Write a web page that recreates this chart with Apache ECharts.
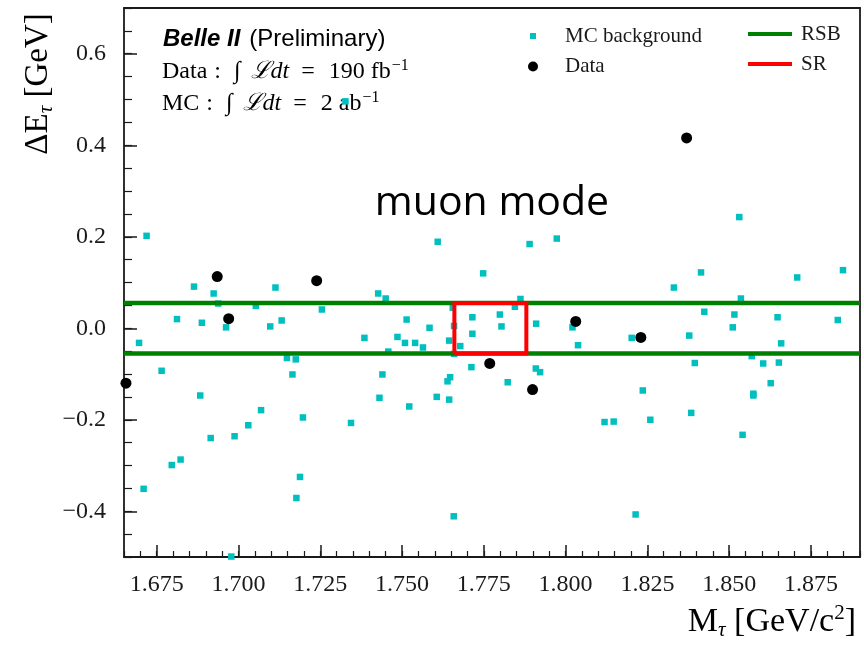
<!DOCTYPE html>
<html>
<head>
<meta charset="utf-8">
<title>Belle II muon mode</title>
<script src="https://cdn.jsdelivr.net/npm/echarts@6/dist/echarts.min.js"></script>
<style>
  html, body { margin: 0; padding: 0; background: #ffffff; }
  #chart { width: 864px; height: 646px; }
</style>
</head>
<body>
<div id="chart"></div>
<script>
// ---- values ----
// MC background events: [M_tau (GeV/c^2), Delta E_tau (GeV)]
const mcBackground = [
  [1.7327, 0.496],
  [1.6719, 0.202], [1.6864, 0.091], [1.6924, 0.076], [1.6938, 0.054],
  [1.7053, 0.049], [1.7113, 0.089], [1.7255, 0.041], [1.6812, 0.020],
  [1.6888, 0.012], [1.6962, 0.002], [1.7097, 0.004], [1.7132, 0.017],
  [1.6696, -0.032], [1.7385, -0.021], [1.6765, -0.093], [1.7148, -0.065],
  [1.7175, -0.068], [1.7165, -0.101],
  [1.7609, 0.189], [1.7890, 0.184], [1.7973, 0.196], [1.7748, 0.120],
  [1.7427, 0.076], [1.7450, 0.065], [1.7862, 0.064], [1.7845, 0.047],
  [1.7655, 0.045], [1.7715, 0.024], [1.7799, 0.030], [1.7514, 0.019],
  [1.7584, 0.001], [1.7659, 0.005], [1.7804, 0.004], [1.7910, 0.010],
  [1.8021, 0.002], [1.7486, -0.019], [1.7715, -0.012], [1.7644, -0.027],
  [1.7509, -0.032], [1.7540, -0.032], [1.7564, -0.042], [1.7678, -0.039],
  [1.7458, -0.051], [1.7659, -0.056], [1.8038, -0.037], [1.7440, -0.101],
  [1.7647, -0.107], [1.7712, -0.085], [1.7909, -0.088], [1.7922, -0.096],
  [1.7823, -0.118],
  [1.8531, 0.243], [1.8414, 0.122], [1.8331, 0.089], [1.8708, 0.111],
  [1.8848, 0.127], [1.8536, 0.065], [1.8424, 0.036], [1.8516, 0.030],
  [1.8648, 0.024], [1.8832, 0.018], [1.8511, 0.002], [1.8202, -0.021],
  [1.8378, -0.016], [1.8659, -0.033], [1.8569, -0.061], [1.8395, -0.076],
  [1.8604, -0.077], [1.8652, -0.075],
  [1.6883, -0.147], [1.7431, -0.152], [1.7522, -0.171], [1.7606, -0.150],
  [1.7644, -0.156], [1.7639, -0.116], [1.7069, -0.179], [1.7197, -0.195],
  [1.7030, -0.212], [1.7344, -0.207], [1.6915, -0.240], [1.6988, -0.236],
  [1.6796, -0.299], [1.6823, -0.287], [1.6710, -0.351], [1.7188, -0.325],
  [1.7177, -0.371], [1.7658, -0.411], [1.6978, -0.499],
  [1.8236, -0.136], [1.8119, -0.205], [1.8147, -0.204], [1.8259, -0.200],
  [1.8384, -0.185], [1.8574, -0.143], [1.8574, -0.147], [1.8627, -0.120],
  [1.8541, -0.233], [1.8214, -0.407]
];

// Recorded data events
const dataEvents = [
  [1.6656, -0.120], [1.6935, 0.113], [1.6970, 0.021], [1.7239, 0.104],
  [1.8031, 0.015], [1.7768, -0.077], [1.8230, -0.020], [1.7899, -0.134],
  [1.8370, 0.416]
];

// Region boundaries
const rsbDeltaE = [-0.055, 0.055];      // sideband band edges in Delta E
const srMass = [1.766, 1.788];          // signal region in M_tau
const srDeltaE = [-0.055, 0.055];       // signal region in Delta E

// Axis ranges and ticks
const massRange = [1.665, 1.89];
const deltaERange = [-0.5, 0.7];
const massTicks = [1.675, 1.700, 1.725, 1.750, 1.775, 1.800, 1.825, 1.850, 1.875];
const deltaETicks = [-0.4, -0.2, 0.0, 0.2, 0.4, 0.6];
const massMinorTicks = [];
for (let i = 1665; i <= 1890; i += 5) massMinorTicks.push(i / 1000);
const deltaEMinorTicks = [];
for (let i = -50; i <= 70; i += 5) deltaEMinorTicks.push(i / 100);

// ---- styling ----
const SERIF = '"Liberation Serif", "DejaVu Serif", serif';
const SANS = '"Liberation Sans", Arial, sans-serif';
const INK = '#1a1a1a';
const AXIS_COLOR = '#1a1a1a';
const AXIS_W = 1.8;

const rsbUpper = [[massRange[0], rsbDeltaE[1]], [massRange[1], rsbDeltaE[1]]];
const rsbLower = [[massRange[0], rsbDeltaE[0]], [massRange[1], rsbDeltaE[0]]];
const srBox = [
  [srMass[0], srDeltaE[0]], [srMass[0], srDeltaE[1]],
  [srMass[1], srDeltaE[1]], [srMass[1], srDeltaE[0]],
  [srMass[0], srDeltaE[0]]
];

function fmtDeltaE(v) {
  const s = Math.abs(v).toFixed(1);
  return v < -1e-9 ? '\u2212' + s : s;
}

const hidden = { show: false };
function frameAxis(extra) {
  return Object.assign({
    type: 'value', splitLine: hidden, axisLabel: hidden, axisTick: hidden,
    axisLine: { show: false, onZero: false }
  }, extra);
}

// rich-text pieces for the luminosity lines; padding[3] spaces the tokens
function serifToken(pad, extra) {
  return Object.assign({ fontFamily: SERIF, fontSize: 24, color: INK, padding: [0, 0, 0, pad] }, extra || {});
}
const lumiRich = {
  a: serifToken(0),
  c: serifToken(7),
  g: serifToken(13),
  i: serifToken(10, { fontStyle: 'italic' }),
  e: serifToken(12),
  n: serifToken(14),
  sup: { fontFamily: SERIF, fontSize: 16, color: INK, verticalAlign: 'top', padding: [0, 0, 12, 1] }
};

const chart = echarts.init(document.getElementById('chart'), null, { renderer: 'canvas' });

const legendText = { fontFamily: SERIF, fontSize: 21, color: INK };

const option = {
  animation: false,
  backgroundColor: '#ffffff',
  grid: { left: 124, top: 8, right: 4, bottom: 89, outerBoundsMode: 'none', containLabel: false },
  xAxis: [
    {
      type: 'value', min: massRange[0], max: massRange[1], position: 'bottom',
      splitLine: hidden,
      axisLine: { show: true, onZero: false, lineStyle: { color: AXIS_COLOR, width: AXIS_W } },
      axisTick: { show: true, inside: true, length: 12, customValues: massTicks,
                  lineStyle: { color: AXIS_COLOR, width: 1.5 } },
      axisLabel: { show: true, customValues: massTicks, formatter: v => v.toFixed(3),
                   fontFamily: SERIF, fontSize: 24, color: INK, margin: 16 }
    },
    frameAxis({
      min: massRange[0], max: massRange[1], position: 'bottom',
      axisTick: { show: true, inside: true, length: 6, customValues: massMinorTicks,
                  lineStyle: { color: AXIS_COLOR, width: 1.2 } }
    }),
    frameAxis({
      min: massRange[0], max: massRange[1], position: 'top',
      axisLine: { show: true, onZero: false, lineStyle: { color: AXIS_COLOR, width: AXIS_W } }
    })
  ],
  yAxis: [
    {
      type: 'value', min: deltaERange[0], max: deltaERange[1], position: 'left',
      splitLine: hidden,
      axisLine: { show: true, onZero: false, lineStyle: { color: AXIS_COLOR, width: AXIS_W } },
      axisTick: { show: true, inside: true, length: 13, customValues: deltaETicks,
                  lineStyle: { color: AXIS_COLOR, width: 1.5 } },
      axisLabel: { show: true, customValues: deltaETicks, formatter: fmtDeltaE,
                   fontFamily: SERIF, fontSize: 24, color: INK, margin: 18 }
    },
    frameAxis({
      min: deltaERange[0], max: deltaERange[1], position: 'left',
      axisTick: { show: true, inside: true, length: 8, customValues: deltaEMinorTicks,
                  lineStyle: { color: AXIS_COLOR, width: 1.2 } }
    }),
    frameAxis({
      min: deltaERange[0], max: deltaERange[1], position: 'right',
      axisLine: { show: true, onZero: false, lineStyle: { color: AXIS_COLOR, width: AXIS_W } }
    })
  ],
  legend: [
    {
      data: [{ name: 'MC background', icon: 'rect' }],
      left: 525, top: 20.5, itemWidth: 6, itemHeight: 6,
      selectedMode: false, textStyle: Object.assign({ padding: [0, 0, 0, 24] }, legendText)
    },
    {
      data: [{ name: 'Data', icon: 'circle' }],
      left: 523, top: 51, itemWidth: 10, itemHeight: 10,
      selectedMode: false, textStyle: Object.assign({ padding: [0, 0, 0, 22] }, legendText)
    },
    {
      data: [{ name: 'RSB', icon: 'rect' }, { name: 'SR', icon: 'rect' }],
      orient: 'vertical', left: 743, top: 18.5, itemWidth: 44, itemHeight: 4, itemGap: 9,
      selectedMode: false, textStyle: Object.assign({ padding: [0, 0, 0, 4] }, legendText)
    }
  ],
  series: [
    {
      name: 'RSB', type: 'line', data: rsbUpper, symbol: 'none', silent: true,
      lineStyle: { color: '#008000', width: 4.5 }, itemStyle: { color: '#008000' }
    },
    {
      name: 'RSB', type: 'line', data: rsbLower, symbol: 'none', silent: true,
      lineStyle: { color: '#008000', width: 4.5 }, itemStyle: { color: '#008000' }
    },
    {
      name: 'SR', type: 'line', data: srBox, symbol: 'none', silent: true,
      lineStyle: { color: '#ff0000', width: 4, join: 'miter' }, itemStyle: { color: '#ff0000' }
    },
    {
      name: 'MC background', type: 'scatter', data: mcBackground,
      symbol: 'rect', symbolSize: 6.5, itemStyle: { color: '#00bfbf', opacity: 1 }
    },
    {
      name: 'Data', type: 'scatter', data: dataEvents,
      symbol: 'circle', symbolSize: 11, itemStyle: { color: '#000000', opacity: 1 }
    }
  ],
  graphic: [
    {
      type: 'text', x: 163, y: 39, silent: true,
      style: {
        text: '{b|Belle II}{r|(Preliminary)}',
        textAlign: 'left', textVerticalAlign: 'middle', align: 'left', verticalAlign: 'middle',
        rich: {
          b: { fontFamily: SANS, fontWeight: 'bold', fontStyle: 'italic', fontSize: 24, color: '#000' },
          r: { fontFamily: SANS, fontSize: 24, color: '#111', padding: [0, 0, 0, 9] }
        }
      }
    },
    {
      type: 'text', x: 162, y: 72, silent: true,
      style: {
        text: '{a|Data}{c|:}{g|\u222B}{i|\u2112dt}{e|=}{n|190 fb}{sup|\u22121}',
        textAlign: 'left', textVerticalAlign: 'middle', align: 'left', verticalAlign: 'middle',
        rich: lumiRich
      }
    },
    {
      type: 'text', x: 162, y: 104, silent: true,
      style: {
        text: '{a|MC}{c|:}{g|\u222B}{i|\u2112dt}{e|=}{n|2 ab}{sup|\u22121}',
        textAlign: 'left', textVerticalAlign: 'middle', align: 'left', verticalAlign: 'middle',
        rich: lumiRich
      }
    },
    {
      type: 'text', x: 492, y: 203, silent: true,
      style: {
        text: 'muon mode', font: '41px "Open Sans", "Noto Sans", sans-serif', fill: '#000',
        textAlign: 'center', textVerticalAlign: 'middle', align: 'center', verticalAlign: 'middle'
      }
    },
    {
      type: 'text', x: 856, y: 603, silent: true,
      style: {
        text: '{r|M}{sub|\u03C4}{r| [GeV/c}{sup|2}{r|]}',
        textAlign: 'right', textVerticalAlign: 'top', align: 'right', verticalAlign: 'top',
        rich: {
          r: { fontFamily: SERIF, fontSize: 34, color: INK },
          sub: { fontFamily: SERIF, fontStyle: 'italic', fontSize: 21, color: INK, verticalAlign: 'bottom', padding: [17, 0, 0, 0] },
          sup: { fontFamily: SERIF, fontSize: 21, color: INK, verticalAlign: 'top', padding: [0, 0, 17, 0] }
        }
      }
    },
    {
      type: 'text', x: 38, y: 84, rotation: Math.PI / 2, silent: true,
      style: {
        text: '{r|\u0394E}{sub|\u03C4}{r| [GeV]}',
        textAlign: 'center', textVerticalAlign: 'middle', align: 'center', verticalAlign: 'middle',
        rich: {
          r: { fontFamily: SERIF, fontSize: 33, color: INK },
          sub: { fontFamily: SERIF, fontStyle: 'italic', fontSize: 21, color: INK, verticalAlign: 'bottom', padding: [17, 0, 0, 0] }
        }
      }
    }
  ]
};

chart.setOption(option);
</script>
</body>
</html>
